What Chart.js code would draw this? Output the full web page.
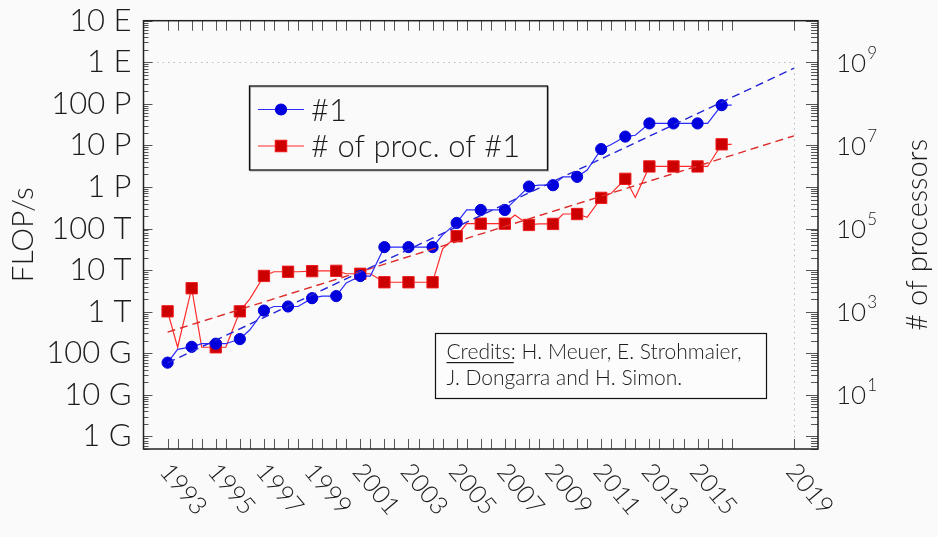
<!DOCTYPE html>
<html>
<head>
<meta charset="utf-8">
<title>TOP500 #1 performance and processor count</title>
<script src="https://cdn.jsdelivr.net/npm/chart.js@4.4.1/dist/chart.umd.min.js"></script>
<style>
  html, body { margin: 0; padding: 0; background: #fafafa; }
  #wrap { width: 938px; height: 537px; }
</style>
</head>
<body>
<div id="wrap"><canvas id="top500" width="938" height="537"></canvas></div>
<script>
// TOP500 list dates (June and November editions)
const listDates = [
  '1993-06', '1993-11', '1994-06', '1994-11', '1995-06', '1995-11',
  '1996-06', '1996-11', '1997-06', '1997-11', '1998-06', '1998-11',
  '1999-06', '1999-11', '2000-06', '2000-11', '2001-06', '2001-11',
  '2002-06', '2002-11', '2003-06', '2003-11', '2004-06', '2004-11',
  '2005-06', '2005-11', '2006-06', '2006-11', '2007-06', '2007-11',
  '2008-06', '2008-11', '2009-06', '2009-11', '2010-06', '2010-11',
  '2011-06', '2011-11', '2012-06', '2012-11', '2013-06', '2013-11',
  '2014-06', '2014-11', '2015-06', '2015-11', '2016-06', '2016-11'
];

// Rmax of the #1 system, GFLOP/s
const rmaxGflops = [
  59.7, 124.5, 143.4, 170.4, 170.4, 170.4,
  220.4, 368.2, 1068, 1338, 1338, 1338,
  2121, 2379, 2379, 4938, 7226, 7226,
  35860, 35860, 35860, 35860, 35860, 70720,
  136800, 280600, 280600, 280600, 280600, 478200,
  1026000, 1105000, 1105000, 1759000, 1759000, 2566000,
  8162000, 10510000, 16320000, 17590000, 33860000, 33860000,
  33860000, 33860000, 33860000, 33860000, 93010000, 93010000
];

// number of processors (cores) of the #1 system
const procCount = [
  1024, 140, 3680, 140, 140, 140,
  1024, 2048, 7264, 9152, 9152, 9152,
  9472, 9632, 9632, 8192, 8192, 8192,
  5120, 5120, 5120, 5120, 5120, 32768,
  65536, 131072, 131072, 131072, 131072, 212992,
  122400, 129600, 129600, 224162, 224162, 186368,
  548352, 705024, 1572864, 560640, 3120000, 3120000,
  3120000, 3120000, 3120000, 3120000, 10649600, 10649600
];

// fitted trends (dashed)
const trendYears = [1993, 2019];
const rmaxTrend = [5.9e10, 7.2e17];
const procTrend = [323, 1.7e7];

// axis ticks
const yearLabels = [1993, 1995, 1997, 1999, 2001, 2003, 2005, 2007, 2009, 2011, 2013, 2015, 2019];
const flopTickValues = [1e9, 1e10, 1e11, 1e12, 1e13, 1e14, 1e15, 1e16, 1e17, 1e18, 1e19];
const flopTickLabels = ['1 G', '10 G', '100 G', '1 T', '10 T', '100 T', '1 P', '10 P', '100 P', '1 E', '10 E'];
const procTickValues = [1e1, 1e3, 1e5, 1e7, 1e9];
const procTickExponents = ['1', '3', '5', '7', '9'];

// exascale reference (dotted)
const exaFlops = 1e18;
const exaYear = 2019;

const creditLines = ['Credits:', ' H. Meuer, E. Strohmaier,', 'J. Dongarra and H. Simon.'];

const FONT = 'Lato, "Open Sans", "DejaVu Sans", sans-serif';
const INK = '#1c1c1c';
const BLUE = '#0000dd';
const RED = '#cc0000';

/**
 * list date -> fractional year (June list sits on the year tick)
 */
function listToYear(d) {
  const [y, m] = d.split('-').map(Number);
  return y + (m - 6) / 12;
}

const listX = listDates.map(listToYear);
// markers only on the June lists
const juneMarks = listDates.map(d => d.endsWith('-06'));

/**
 * log tick marks drawn inside the frame
 */
function drawLogTicks(ctx, scale, x0, dir, majorLen, minorLen) {
  const lo = Math.floor(Math.log10(scale.min));
  const hi = Math.ceil(Math.log10(scale.max));
  for (let e = lo; e <= hi; e++) {
    for (let m = 1; m <= 9; m++) {
      const v = m * Math.pow(10, e);
      if (v < scale.min || v > scale.max) continue;
      const y = Math.round(scale.getPixelForValue(v)) + 0.5;
      const len = m === 1 ? majorLen : minorLen;
      ctx.beginPath();
      ctx.moveTo(x0, y);
      ctx.lineTo(x0 + dir * len, y);
      ctx.stroke();
    }
  }
}

const decorPlugin = {
  id: 'decor',
  beforeDraw(chart) {
    const { ctx, width, height } = chart;
    ctx.save();
    ctx.fillStyle = '#fafafa';
    ctx.fillRect(0, 0, width, height);
    ctx.restore();
  },
  beforeDatasetsDraw(chart) {
    const { ctx, chartArea, scales: { x, y } } = chart;
    const ey = y.getPixelForValue(exaFlops);
    const ex = x.getPixelForValue(exaYear);
    ctx.save();
    ctx.strokeStyle = '#bdbdbd';
    ctx.lineWidth = 1;
    ctx.setLineDash([1.5, 4]);
    ctx.beginPath();
    ctx.moveTo(chartArea.left + 8, Math.round(ey) + 0.5);
    ctx.lineTo(ex, Math.round(ey) + 0.5);
    ctx.moveTo(Math.round(ex) + 0.5, ey);
    ctx.lineTo(Math.round(ex) + 0.5, chartArea.bottom);
    ctx.stroke();
    ctx.restore();
  },
  afterDraw(chart) {
    const { ctx, chartArea: a, scales: { x, y, y1 } } = chart;
    ctx.save();

    // inside tick marks
    ctx.strokeStyle = '#555';
    ctx.lineWidth = 1;
    [...listX, exaYear].forEach(t => {
      const px = Math.round(x.getPixelForValue(t)) + 0.5;
      ctx.beginPath();
      ctx.moveTo(px, a.top);
      ctx.lineTo(px, a.top + 10);
      ctx.moveTo(px, a.bottom);
      ctx.lineTo(px, a.bottom - 10);
      ctx.stroke();
    });
    drawLogTicks(ctx, y, a.left, 1, 9, 5);
    drawLogTicks(ctx, y1, a.right, -1, 12, 7);

    // frame
    ctx.strokeStyle = '#222';
    ctx.lineWidth = 1.5;
    ctx.strokeRect(a.left, a.top, a.right - a.left, a.bottom - a.top);

    // year labels, rotated clockwise
    ctx.fillStyle = INK;
    ctx.font = `300 25px ${FONT}`;
    ctx.textAlign = 'left';
    ctx.textBaseline = 'middle';
    yearLabels.forEach(yr => {
      const px = x.getPixelForValue(yr);
      ctx.save();
      ctx.translate(px - 3, a.bottom + 18);
      ctx.rotate(50 * Math.PI / 180);
      ctx.fillText(String(yr), 0, 0);
      ctx.restore();
    });

    // right axis labels 10^n
    procTickValues.forEach((v, i) => {
      const py = y1.getPixelForValue(v);
      ctx.font = `300 26px ${FONT}`;
      ctx.textBaseline = 'middle';
      ctx.fillText('10', 836, py + 1);
      const w = ctx.measureText('10').width;
      ctx.font = `300 17px ${FONT}`;
      ctx.fillText(procTickExponents[i], 836 + w + 1, py - 9);
    });

    // right axis title
    ctx.save();
    ctx.translate(918, (a.top + a.bottom) / 2);
    ctx.rotate(-Math.PI / 2);
    ctx.textAlign = 'center';
    ctx.font = `300 29px ${FONT}`;
    ctx.fillText('# of processors', 0, 0);
    ctx.restore();

    this.drawLegend(chart);
    this.drawCredits(chart);
    ctx.restore();
  },
  drawLegend(chart) {
    const { ctx } = chart;
    const box = { x: 249.5, y: 86, w: 298, h: 84 };
    ctx.fillStyle = '#fafafa';
    ctx.fillRect(box.x, box.y, box.w, box.h);
    ctx.strokeStyle = '#aaa';
    ctx.lineWidth = 1;
    ctx.strokeRect(box.x + 1, box.y + 1, box.w, box.h);
    ctx.strokeStyle = '#111';
    ctx.lineWidth = 1.3;
    ctx.strokeRect(box.x, box.y, box.w, box.h);

    const rows = chart.data.datasets.filter(ds => ds.inLegend);
    rows.forEach((ds, i) => {
      const cy = 109.5 + i * 36.5;
      ctx.strokeStyle = ds.borderColor;
      ctx.lineWidth = ds.borderWidth;
      ctx.beginPath();
      ctx.moveTo(258, cy);
      ctx.lineTo(304, cy);
      ctx.stroke();
      ctx.fillStyle = ds.pointBackgroundColor;
      ctx.strokeStyle = ds.pointBorderColor;
      Chart.helpers.drawPoint(ctx, {
        pointStyle: ds.pointStyle,
        radius: ds.legendRadius,
        borderWidth: 1,
        rotation: 0
      }, 281, cy);
      ctx.fillStyle = INK;
      ctx.font = `300 31px ${FONT}`;
      ctx.textAlign = 'left';
      ctx.textBaseline = 'middle';
      ctx.fillText(ds.label, 311, cy + 1);
    });
  },
  drawCredits(chart) {
    const { ctx } = chart;
    const box = { x: 435.5, y: 333.5, w: 331, h: 65 };
    ctx.fillStyle = '#fcfcfc';
    ctx.fillRect(box.x, box.y, box.w, box.h);
    ctx.strokeStyle = '#111';
    ctx.lineWidth = 1.2;
    ctx.strokeRect(box.x, box.y, box.w, box.h);

    ctx.fillStyle = INK;
    ctx.font = `300 21px ${FONT}`;
    ctx.textAlign = 'left';
    ctx.textBaseline = 'middle';
    const x0 = 446.5;
    ctx.fillText(creditLines[0], x0, 352);
    const w = ctx.measureText(creditLines[0]).width;
    ctx.fillText(creditLines[1], x0 + w, 352);
    ctx.fillText(creditLines[2], x0, 378);
    // underline "Credits:"
    ctx.fillRect(x0, 362, w - 2, 1.2);
  }
};

const mainPoint = (dsColor) => ({
  pointBackgroundColor: dsColor,
  pointHoverRadius: 0
});

const chart = new Chart(document.getElementById('top500').getContext('2d'), {
  type: 'line',
  data: {
    datasets: [
      {
        label: '#1',
        inLegend: true,
        yAxisID: 'y',
        data: listX.map((t, i) => ({ x: t, y: rmaxGflops[i] * 1e9 })),
        borderColor: '#2a2aff',
        borderWidth: 1.2,
        pointStyle: 'circle',
        pointRadius: juneMarks.map(m => (m ? 5.6 : 0)),
        pointBorderColor: BLUE,
        pointBorderWidth: 1,
        legendRadius: 5.5,
        ...mainPoint(BLUE),
        order: 1
      },
      {
        label: '# of proc. of #1',
        inLegend: true,
        yAxisID: 'y1',
        data: listX.map((t, i) => ({ x: t, y: procCount[i] })),
        borderColor: '#ff2a2a',
        borderWidth: 1.2,
        pointStyle: 'rect',
        pointRadius: juneMarks.map(m => (m ? 8 : 0)),
        pointBorderColor: '#ee1c1c',
        pointBorderWidth: 1,
        legendRadius: 8,
        ...mainPoint(RED),
        order: 2
      },
      {
        label: '#1 trend',
        yAxisID: 'y',
        data: trendYears.map((t, i) => ({ x: t, y: rmaxTrend[i] })),
        borderColor: '#2525d8',
        borderWidth: 1.4,
        borderDash: [8, 5],
        pointRadius: 0,
        order: 0
      },
      {
        label: '# of proc. trend',
        yAxisID: 'y1',
        data: trendYears.map((t, i) => ({ x: t, y: procTrend[i] })),
        borderColor: '#dd2a2a',
        borderWidth: 1.4,
        borderDash: [8, 5],
        pointRadius: 0,
        order: 0
      }
    ]
  },
  options: {
    responsive: false,
    animation: false,
    events: [],
    layout: { padding: { top: 20.7, left: 0, right: 0, bottom: 0 } },
    elements: { line: { tension: 0, fill: false } },
    scales: {
      x: {
        type: 'linear',
        min: 1992,
        max: 2020,
        ticks: { display: false },
        grid: { display: false, drawTicks: false },
        border: { display: false },
        afterFit: s => { s.height = 88; s.paddingLeft = 0; s.paddingRight = 0; }
      },
      y: {
        type: 'logarithmic',
        position: 'left',
        min: 5e8,
        max: 1e19,
        afterBuildTicks: s => { s.ticks = flopTickValues.map(v => ({ value: v })); },
        ticks: {
          callback: (v, i) => flopTickLabels[i],
          color: INK,
          padding: 12,
          font: { family: FONT, size: 31, weight: 300 }
        },
        grid: { display: false, drawTicks: false },
        border: { display: false },
        title: {
          display: true,
          text: 'FLOP/s',
          color: INK,
          padding: { top: 5, bottom: 0 },
          font: { family: FONT, size: 30, weight: 300 }
        },
        afterFit: s => { s.width = 143.5; s.paddingTop = 0; s.paddingBottom = 0; }
      },
      y1: {
        type: 'logarithmic',
        position: 'right',
        min: 0.5,
        max: 1e10,
        ticks: { display: false },
        grid: { display: false, drawTicks: false },
        border: { display: false },
        afterFit: s => { s.width = 120; s.paddingTop = 0; s.paddingBottom = 0; }
      }
    },
    plugins: {
      legend: { display: false },
      tooltip: { enabled: false }
    }
  },
  plugins: [decorPlugin]
});
</script>
</body>
</html>
